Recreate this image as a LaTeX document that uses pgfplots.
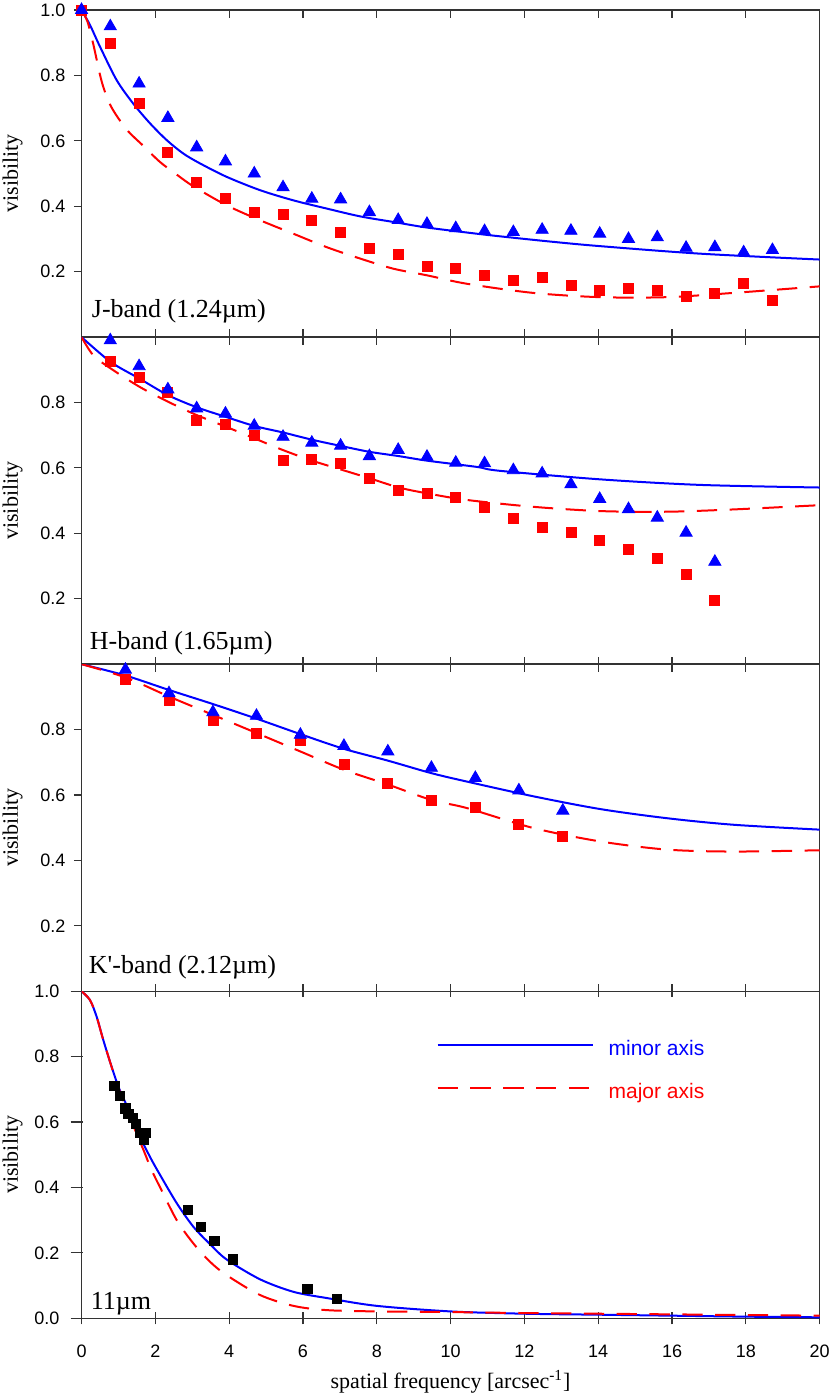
\documentclass[border=0pt]{standalone}
\usepackage{fontspec}
\setmainfont{Liberation Serif}
\setsansfont{Liberation Sans}
\usepackage{pgfplots}
\pgfplotsset{compat=1.18}
\definecolor{cblue}{RGB}{0,0,255}
\definecolor{cred}{RGB}{255,0,0}
\tikzset{plab/.style={anchor=base west, inner sep=0pt, font=\fontsize{13}{15}\selectfont}}
\pgfplotsset{
  panel/.style={
    scale only axis, width=369pt, height=163.5pt,
    xmin=0, xmax=20, ymin=0, ymax=1,
    xtick={0,2,...,20},
    xtick pos=both, ytick pos=left,
    tick style={black!80, line width=0.6pt},
    axis line style={black!80, line width=0.7pt},
    tick label style={font=\sffamily\fontsize{9}{10}\selectfont},
    /pgf/number format/assume math mode=true,
    yticklabel style={/pgf/number format/fixed, /pgf/number format/fixed zerofill, /pgf/number format/precision=1, xshift=-4.5pt},
    ylabel={visibility},
    ylabel style={at={([xshift=-34.5pt]axis description cs:0,0.5)}, anchor=center, font=\fontsize{11}{13}\selectfont},
  },
  upper/.style={tick align=inside, major tick length=3.8pt, y tick style={xshift=-3.8pt}, xticklabels={}},
  bl/.style={cblue, line width=1pt, smooth},
  rd/.style={cred, line width=1pt, smooth, dash pattern=on 10.15pt off 6.25pt},
  tri/.style={cblue, only marks, mark=triangle*, mark size=3.5pt},
  sq/.style={cred, only marks, mark=square*, mark size=2.5pt},
}
\begin{document}
\begin{tikzpicture}
% ---------------- J band ----------------
\begin{axis}[panel, upper, name=J, ytick={0.2,0.4,0.6,0.8,1.0}]
\addplot[bl] coordinates {(0,1.0) (0.23,0.954) (0.5,0.888) (0.95,0.786) (1.4,0.714) (1.86,0.653) (2.31,0.602) (2.76,0.561) (3.21,0.531) (3.93,0.49) (4.84,0.449) (5.74,0.418) (6.64,0.393) (7.55,0.369) (8.5,0.351) (9.35,0.335) (10.71,0.316) (11.34,0.308) (12.7,0.292) (14.05,0.278) (16.76,0.255) (20,0.237)};
\addplot[rd] coordinates {(0,1.0) (0.16,0.965) (0.32,0.895) (0.55,0.78) (0.8,0.705) (1.22,0.635) (1.67,0.585) (2.13,0.535) (2.6,0.495) (3.03,0.461) (3.93,0.403) (4.84,0.357) (5.74,0.316) (6.64,0.275) (7.55,0.240) (8.45,0.209) (9.35,0.189) (10.44,0.163) (12.24,0.135) (14.05,0.122) (15.86,0.122) (17.66,0.135) (20,0.155)};
\addplot[sq] coordinates {(0,1.0) (0.78,0.897) (1.56,0.713) (2.34,0.564) (3.12,0.473) (3.90,0.423) (4.68,0.381) (5.46,0.375) (6.24,0.356) (7.02,0.321) (7.80,0.270) (8.58,0.253) (9.36,0.215) (10.14,0.211) (10.92,0.189) (11.70,0.172) (12.48,0.181) (13.26,0.158) (14.04,0.143) (14.82,0.149) (15.60,0.143) (16.38,0.125) (17.16,0.133) (17.94,0.165) (18.72,0.111)};
\addplot[tri] coordinates {(0,1.0) (0.78,0.95) (1.56,0.775) (2.34,0.67) (3.12,0.58) (3.90,0.537) (4.68,0.50) (5.46,0.458) (6.24,0.423) (7.02,0.421) (7.80,0.382) (8.58,0.358) (9.36,0.346) (10.14,0.333) (10.92,0.324) (11.70,0.321) (12.48,0.328) (13.26,0.325) (14.04,0.316) (14.82,0.300) (15.60,0.305) (16.38,0.273) (17.16,0.275) (17.94,0.259) (18.72,0.266)};
\node[plab] at ([xshift=5pt]rel axis cs:0,0.061) {J-band (1.24µm)};
\end{axis}
% ---------------- H band ----------------
\begin{axis}[panel, upper, name=H, at={(J.south west)}, anchor=north west, ytick={0.2,0.4,0.6,0.8}]
\addplot[bl] coordinates {(0,1.0) (0.79,0.924) (1.57,0.873) (2.35,0.822) (3.13,0.785) (3.91,0.756) (4.69,0.728) (5.47,0.708) (6.25,0.686) (7.03,0.667) (7.81,0.649) (8.6,0.636) (9.37,0.622) (10.71,0.603) (11.34,0.591) (14.05,0.565) (16.76,0.548) (20,0.540)};
\addplot[rd] coordinates {(0,1.0) (0.32,0.944) (0.79,0.904) (1.57,0.848) (2.35,0.802) (3.13,0.761) (3.91,0.726) (4.69,0.690) (5.47,0.654) (6.25,0.622) (7.03,0.595) (7.81,0.568) (8.6,0.540) (9.37,0.522) (10.44,0.502) (12.24,0.481) (14.05,0.468) (15.86,0.466) (17.66,0.473) (20,0.486)};
\addplot[sq] coordinates {(0.78,0.927) (1.56,0.877) (2.34,0.831) (3.12,0.746) (3.90,0.732) (4.68,0.699) (5.46,0.624) (6.24,0.626) (7.02,0.613) (7.80,0.568) (8.58,0.530) (9.36,0.522) (10.14,0.510) (10.92,0.479) (11.70,0.446) (12.48,0.419) (13.26,0.404) (14.04,0.377) (14.82,0.351) (15.60,0.322) (16.38,0.273) (17.16,0.196)};
\addplot[tri] coordinates {(0.78,0.99) (1.56,0.911) (2.34,0.840) (3.12,0.782) (3.90,0.766) (4.68,0.729) (5.46,0.695) (6.24,0.677) (7.02,0.668) (7.80,0.636) (8.58,0.655) (9.36,0.634) (10.14,0.616) (10.92,0.614) (11.70,0.593) (12.48,0.583) (13.26,0.550) (14.04,0.505) (14.82,0.474) (15.60,0.448) (16.38,0.402) (17.16,0.313)};
\node[plab] at ([xshift=4pt]rel axis cs:0,0.046) {H-band (1.65µm)};
\end{axis}
% ---------------- K' band ----------------
\begin{axis}[panel, upper, name=K, at={(H.south west)}, anchor=north west, ytick={0.2,0.4,0.6,0.8}]
\addplot[bl] coordinates {(0,1.0) (1.2,0.965) (2.37,0.921) (3.56,0.878) (4.75,0.833) (5.93,0.786) (7.11,0.741) (8.3,0.705) (9.47,0.667) (10.44,0.641) (12.24,0.596) (14.05,0.557) (15.86,0.529) (17.66,0.509) (20,0.494)};
\addplot[rd] coordinates {(0,1.0) (1.2,0.959) (2.37,0.901) (3.56,0.845) (4.75,0.789) (5.93,0.733) (7.11,0.677) (8.3,0.632) (9.47,0.585) (10.44,0.560) (12.24,0.499) (14.05,0.458) (15.86,0.433) (17.66,0.427) (20,0.431)};
\addplot[sq] coordinates {(1.19,0.954) (2.37,0.888) (3.56,0.827) (4.74,0.787) (5.93,0.766) (7.11,0.692) (8.30,0.636) (9.48,0.583) (10.67,0.561) (11.85,0.509) (13.04,0.473)};
\addplot[tri] coordinates {(1.19,0.983) (2.37,0.911) (3.56,0.853) (4.74,0.842) (5.93,0.784) (7.11,0.750) (8.30,0.733) (9.48,0.683) (10.67,0.652) (11.85,0.614) (13.04,0.552)};
\node[plab] at ([xshift=3.5pt]rel axis cs:0,0.053) {K\textquotesingle-band (2.12µm)};
\end{axis}
% ---------------- 11 micron ----------------
\begin{axis}[panel, name=M, at={(K.south west)}, anchor=north west,
  ytick={0,0.2,0.4,0.6,0.8,1.0},
  tick align=center, major tick length=6pt, y tick style={xshift=-2.5pt},
  xticklabel style={yshift=-6.8pt},
  xlabel={spatial frequency [arcsec\textsuperscript{-1}]},
  xlabel style={at={([yshift=-35.2pt]axis description cs:0.5,0)}, anchor=base, font=\fontsize{11}{13}\selectfont},
  legend style={draw=none, fill=none, inner sep=0pt, at={(axis cs:9.61,0.754)}, anchor=west,
    row sep=12pt, column sep=7.5pt, font=\sffamily\fontsize{10.5}{12}\selectfont,
    nodes={inner sep=0pt, text height=7.5pt, text depth=2pt}},
  legend cell align=left,
  legend image code/.code={\draw[#1] (0pt,2.7pt) -- (77.5pt,2.7pt);},
]
\addplot[bl] coordinates {(0,1.0) (0.23,0.973) (0.41,0.922) (0.59,0.851) (0.77,0.785) (1.0,0.708) (1.22,0.652) (1.45,0.591) (1.67,0.535) (1.9,0.484) (2.13,0.438) (2.58,0.352) (3.03,0.28) (3.48,0.227) (3.93,0.18) (4.84,0.119) (5.74,0.081) (6.64,0.062) (8,0.038) (10,0.021) (12,0.014) (14,0.011) (16,0.008) (18,0.005) (20,0.003)};
\addlegendentry{\textcolor{cblue}{minor axis}}
\addplot[rd] coordinates {(0,1.0) (0.23,0.973) (0.41,0.922) (0.59,0.851) (1.0,0.705) (1.45,0.576) (1.67,0.517) (1.9,0.453) (2.13,0.40) (2.58,0.30) (3.03,0.229) (3.48,0.173) (3.93,0.132) (4.84,0.071) (5.74,0.038) (6.64,0.025) (8,0.021) (10,0.019) (12,0.016) (14,0.014) (16,0.012) (18,0.010) (20,0.008)};
\addlegendentry{\textcolor{cred}{major axis}}
\addplot[black, only marks, mark=square*, mark size=2.3pt, forget plot] coordinates {(0.89,0.711) (1.04,0.681) (1.19,0.642) (1.27,0.625) (1.39,0.612) (1.48,0.594) (1.59,0.568) (1.69,0.547) (1.75,0.566) (2.89,0.331) (3.24,0.280) (3.60,0.237) (4.10,0.180) (6.12,0.091) (6.92,0.060)};
\node[plab] at ([xshift=4.5pt]rel axis cs:0,0.028) {11µm};
\end{axis}
\pgfresetboundingbox
\path[use as bounding box] ([shift={(-40.75pt,5pt)}]J.north west) rectangle ([shift={(5.25pt,-38.35pt)}]M.south east);
\end{tikzpicture}
\end{document}
